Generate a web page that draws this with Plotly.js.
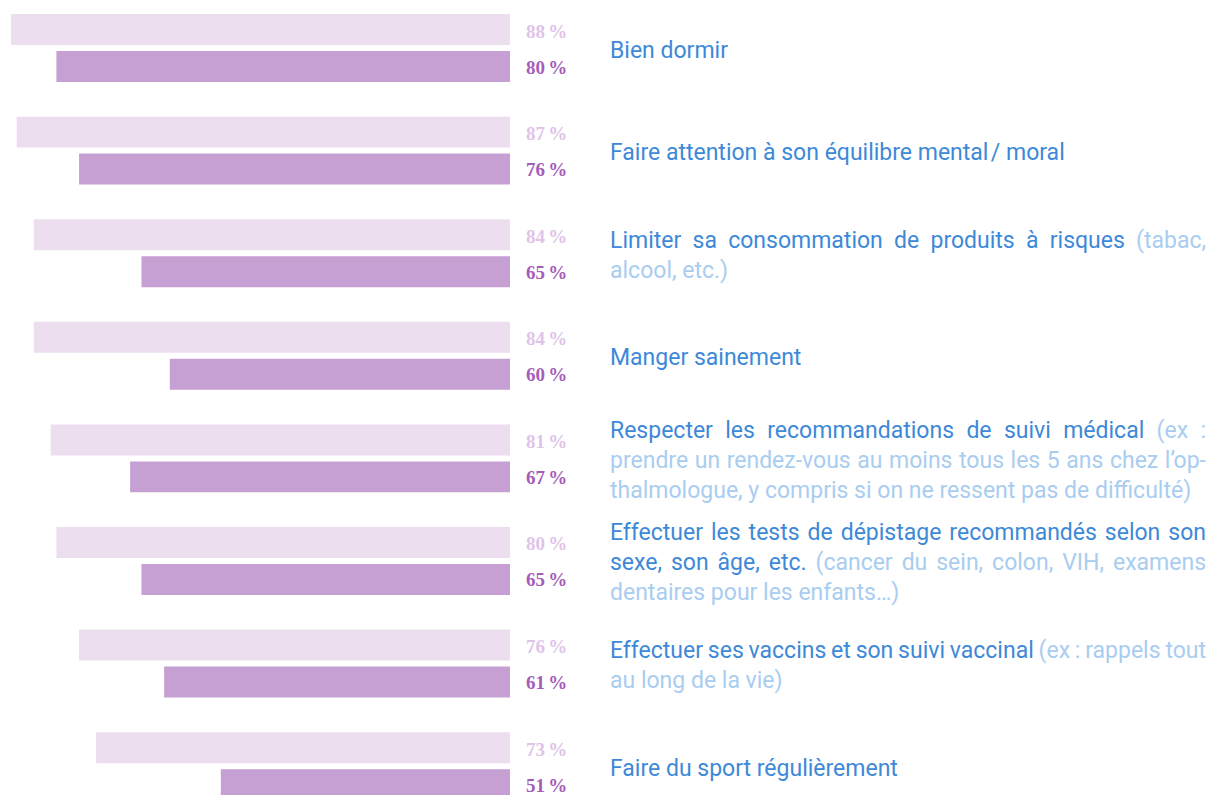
<!DOCTYPE html>
<html>
<head>
<meta charset="utf-8">
<script src="https://cdn.plot.ly/plotly-3.0.1.min.js"></script>
<style>html,body{margin:0;padding:0;background:#fff;}#chart{width:1213px;height:795px;}</style>
</head>
<body>
<div id="chart"></div>
<script>
// Categories (main label text) — '|' marks a line break
const categories = [
  "Bien dormir",
  "Faire attention à son équilibre mental\u200A/ moral",
  "Limiter sa consommation de produits à risques",
  "Manger sainement",
  "Respecter les recommandations de suivi médical",
  "Effectuer les tests de dépistage recommandés selon son|sexe, son âge, etc.",
  "Effectuer ses vaccins et son suivi vaccinal",
  "Faire du sport régulièrement"
];
// Parenthetical details (lighter colour) — '|' marks a line break
const details = [
  "",
  "",
  "(tabac,|alcool, etc.)",
  "",
  "(ex :|prendre un rendez-vous au moins tous les 5 ans chez l’op-|thalmologue, y compris si on ne ressent pas de difficulté)",
  "(cancer du sein, colon, VIH, examens|dentaires pour les enfants…)",
  "(ex : rappels tout|au long de la vie)",
  ""
];
const seriesLight = [88, 87, 84, 84, 81, 80, 76, 73];
const seriesDark  = [80, 76, 65, 60, 67, 65, 61, 51];
const pctSuffix = "\u2006%";

const BLUE = "#3d89d8", LIGHTBLUE = "#a9cdf0";
const BAR_LIGHT = "#ecdeef", BAR_DARK = "#c69fd3";
const TXT_LIGHT = "#e0c3e8", TXT_DARK = "#a45db8";
const LABEL_FONT = "Roboto", LABEL_SIZE = 23, JUSTIFY_WIDTH = 596;

const ids = categories.map((c, i) => "c" + i);

const ctx = document.createElement("canvas").getContext("2d");
ctx.font = LABEL_SIZE + "px " + LABEL_FONT;

function buildLabel(main, detail) {
  const lines = [[]];
  main.split("|").forEach((part, k) => {
    if (k > 0) lines.push([]);
    lines[lines.length - 1].push({t: part, c: BLUE});
  });
  if (detail) {
    detail.split("|").forEach((part, k) => {
      if (k > 0) lines.push([]);
      lines[lines.length - 1].push({t: (k === 0 ? " " : "") + part, c: LIGHTBLUE});
    });
  }
  return lines.map((segs, li) => {
    let ws = 0;
    if (lines.length > 1 && li < lines.length - 1) {
      const full = segs.map(s => s.t).join("");
      const spaces = (full.match(/ /g) || []).length;
      const w = ctx.measureText(full).width;
      if (spaces > 0) ws = (JUSTIFY_WIDTH - w) / spaces;
    }
    return segs.map(s => `<span style="color:${s.c};word-spacing:${ws.toFixed(2)}px">${s.t}</span>`).join("");
  }).join("<br>");
}

const traces = [
  {type: "bar", orientation: "h", y: ids, x: seriesLight, marker: {color: BAR_LIGHT}, hoverinfo: "skip"},
  {type: "bar", orientation: "h", y: ids, x: seriesDark, marker: {color: BAR_DARK}, hoverinfo: "skip"}
];

const annotations = [];
ids.forEach((id, i) => {
  annotations.push({xref: "x", yref: "y", x: 0, y: id, xanchor: "left", yanchor: "middle", xshift: 14, yshift: 17,
    text: "<b>" + seriesLight[i] + pctSuffix + "</b>", showarrow: false,
    font: {family: "Liberation Serif, DejaVu Serif, serif", size: 19, color: TXT_LIGHT}});
  annotations.push({xref: "x", yref: "y", x: 0, y: id, xanchor: "left", yanchor: "middle", xshift: 14, yshift: -19,
    text: "<b>" + seriesDark[i] + pctSuffix + "</b>", showarrow: false,
    font: {family: "Liberation Serif, DejaVu Serif, serif", size: 19, color: TXT_DARK}});
  annotations.push({xref: "paper", yref: "y", x: 608 / 1213, y: id, xanchor: "left", yanchor: "middle", align: "left",
    yshift: -2,
    text: buildLabel(categories[i], details[i]), showarrow: false,
    font: {family: LABEL_FONT + ", sans-serif", size: LABEL_SIZE, color: BLUE}});
});

const layout = {
  width: 1213, height: 795,
  margin: {l: 0, r: 0, t: 0, b: 0},
  paper_bgcolor: "#fff", plot_bgcolor: "#fff",
  showlegend: false,
  barmode: "group", bargap: 0.279, bargroupgap: 0.1625,
  xaxis: {domain: [0, 510 / 1213], range: [510 / 5.67, 0], visible: false, fixedrange: true},
  yaxis: {range: [7.281, -0.468], visible: false, fixedrange: true, categoryorder: "array", categoryarray: ids},
  annotations: annotations,
  hovermode: false
};

Plotly.newPlot("chart", traces, layout, {displayModeBar: false, staticPlot: true});
</script>
</body>
</html>
